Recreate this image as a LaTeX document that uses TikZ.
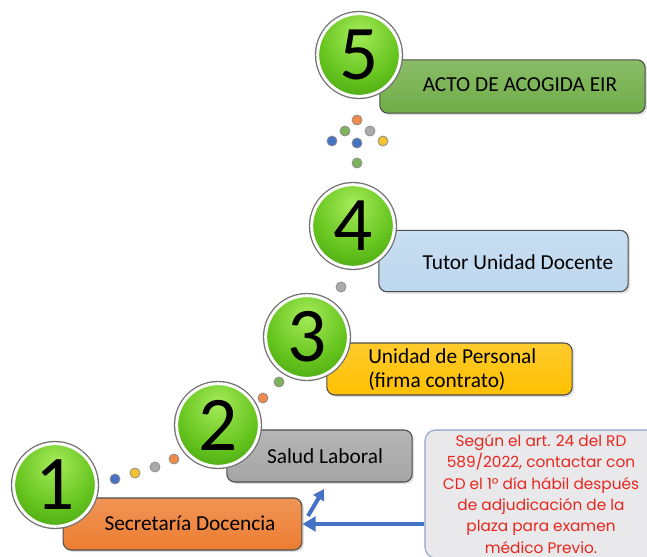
\documentclass[tikz,border=0pt]{standalone}
\usepackage{fontspec}
\setmainfont{Carlito}
\newfontfamily\notefont{Poppins}
\usetikzlibrary{arrows.meta}
\usetikzlibrary{shadows}

\definecolor{ballhi}{HTML}{A6EC5A}
\definecolor{ballmid}{HTML}{66C41E}
\definecolor{balllo}{HTML}{35910A}
\definecolor{sorange}{HTML}{ED7D31}
\definecolor{sgray}{HTML}{A5A5A5}
\definecolor{syellow}{HTML}{FFC000}
\definecolor{sblue}{HTML}{BDD7EE}
\definecolor{sgreen}{HTML}{70AD47}
\definecolor{dblue}{HTML}{4472C4}
\definecolor{dyellow}{HTML}{F5C232}
\definecolor{dgray}{HTML}{ABABAB}
\definecolor{dorange}{HTML}{EE8A4A}
\definecolor{dgreen}{HTML}{7DB35A}
\definecolor{notefill}{HTML}{E9E9EB}
\definecolor{noteedge}{HTML}{8EA6C4}
\definecolor{notered}{HTML}{E8261E}

\pgfdeclareradialshading{greenball}{\pgfpoint{0bp}{14bp}}{color(0bp)=(ballhi); color(24bp)=(ballmid); color(46bp)=(balllo); color(80bp)=(balllo)}

\begin{document}
\begin{tikzpicture}[
        x=0.75pt, y=-0.75pt,
        ball/.style = {
            circle,
            shade,
            shading = greenball,
            draw = white,
            line width = 2.2pt,
            preaction = {draw=black!55, line width=4.2pt},
            minimum size = 62pt,
            inner sep = 0pt,
            font = \fontsize{58}{58}\selectfont
        },
        stepbox/.style = {
            rectangle,
            rounded corners = 6pt,
            draw = black!70,
            line width = 0.8pt,
            top color = #1!82!white,
            bottom color = #1,
            drop shadow = {opacity=0.25, shadow xshift=1.5pt, shadow yshift=-1.5pt},
            inner sep = 0pt
        },
        stepbox/.default = sgray,
        steptext/.style = {
            font = \fontsize{16}{18}\selectfont,
            inner sep = 0pt
        },
        dot/.style = {
            circle,
            draw = black!45,
            line width = 0.6pt,
            minimum size = 7.5pt,
            inner sep = 0pt
        },
        bluearrow/.style = {
            draw = dblue,
            line width = 3pt,
            -{Triangle[length=10pt, width=11pt]}
        }
            ]
            \useasboundingbox (0,0) rectangle (647,557);
            
            \node[stepbox=sorange, minimum width=179pt, minimum height=39pt] (b1) at (182.5,524) {};
            \node[stepbox=sgray, minimum width=139pt, minimum height=39pt] (b2) at (319.5,456) {};
            \node[stepbox=syellow, minimum width=184pt, minimum height=39pt] (b3) at (449.5,369) {};
            \node[stepbox=sblue, minimum width=187pt, minimum height=46pt] (b4) at (503.5,261) {};
            \node[stepbox=sgreen, minimum width=199pt, minimum height=40pt] (b5) at (512.5,86.5) {};
            
            \node[steptext] (t1) at (190,523) {Secretaría Docencia};
            \node[steptext] (t2) at (325,456) {Salud Laboral};
            \node[steptext, anchor=west, align=left] (t3) at (368,370) {Unidad de Personal\\(firma contrato)};
            \node[steptext] (t4) at (518,262) {Tutor Unidad Docente};
            \node[steptext] (t5) at (520,85) {ACTO DE ACOGIDA EIR};
            
            \node[ball] (c1) at (55,485) {1};
            \node[ball] (c2) at (218,425) {2};
            \node[ball] (c3) at (307,337) {3};
            \node[ball] (c4) at (353,226) {4};
            \node[ball] (c5) at (359,55) {5};
            
            \foreach \px/\py/\c [count=\i] in {115/479/dblue, 135/473/dyellow, 155/467/dgray, 174/459/dorange,
                    263/398/dorange, 279/382/dgreen, 341/287/dgray,
                    357/120/dorange, 345/131/dgreen, 370/131/dgray, 332/141/dblue,
                    357/143/dblue, 383/141/dyellow, 357/163/dgreen}
                \node[dot, fill=\c] (d\i) at (\px,\py) {};
            
            \node[rectangle, rounded corners=8pt, draw=noteedge, line width=0.8pt, fill=notefill,
                text=notered, align=center, inner sep=0pt, minimum width=174pt, minimum height=96pt,
                font=\notefont\fontsize{11.5}{16}\selectfont] (n) at (541,494)
                {Según el art. 24 del RD\\589/2022, contactar con\\CD el 1º día hábil después\\de adjudicación  de la\\plaza para examen\\médico Previo.};
            
            \coordinate (a1) at (308,516);
            \coordinate (a2) at (324,489);
            
            \draw[bluearrow] (n.west |- b1.east) -- (b1.east);
            \draw[bluearrow, -{Triangle[length=8pt, width=9pt]}] (a1) -- (a2);
            
        \end{tikzpicture}
\end{document}
